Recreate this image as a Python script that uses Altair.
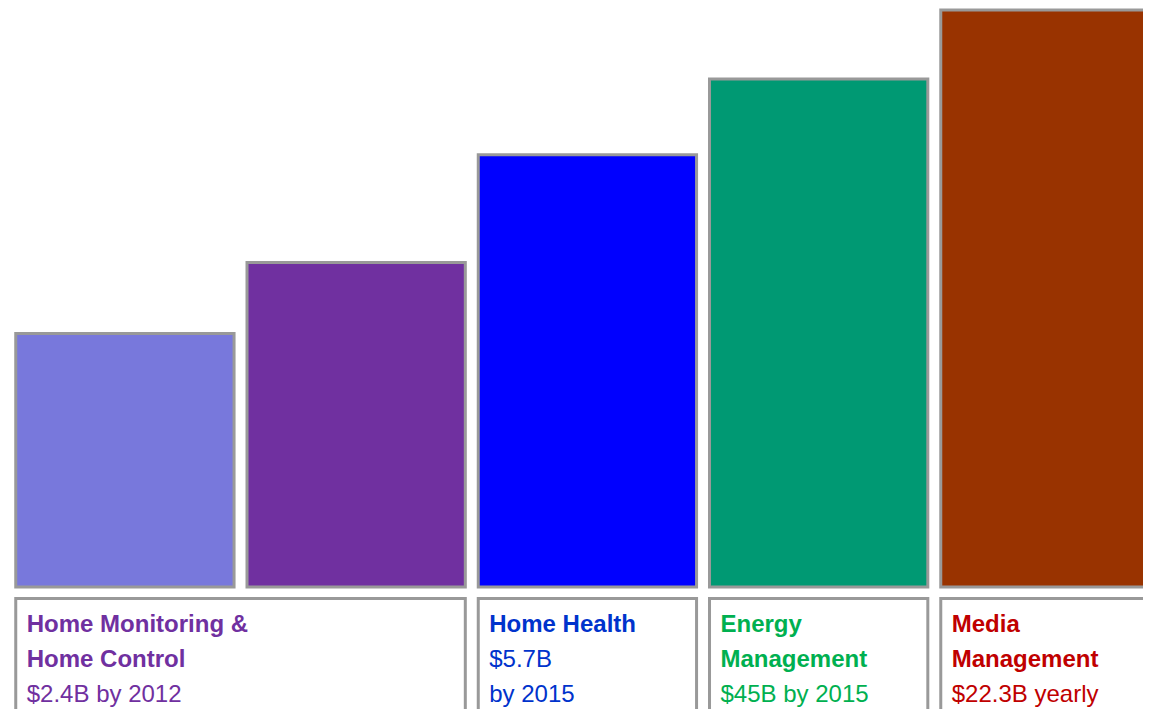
import altair as alt
import pandas as pd

# ---- data ----
categories = ["Home Monitoring", "Home Control", "Home Health",
              "Energy Management", "Media Management"]
heights = [25.4, 32.5, 43.3, 50.9, 57.8]          # relative bar heights
bar_colors = ["#7878DC", "#7030A0", "#0000FF", "#009973", "#993300"]

box_first = [0, 2, 3, 4]
box_last = [1, 2, 3, 4]
box_titles = [["Home Monitoring &", "Home Control"],
              ["Home Health"],
              ["Energy", "Management"],
              ["Media", "Management"]]
box_details = [["$2.4B by 2012"],
               ["$5.7B", "by 2015"],
               ["$45B by 2015"],
               ["$22.3B yearly"]]
box_colors = ["#7030A0", "#0033CC", "#00B050", "#C00000"]

# ---- layout constants ----
HALF = 0.472
BOX_TOP = -1.15
BOX_BOTTOM = -20
LINE0 = -4.5
LINE_STEP = 3.5
GRAY = "#999999"
FONT = "Liberation Sans"

bars = pd.DataFrame({"cat": categories, "idx": list(range(len(categories))),
                     "h": heights, "color": bar_colors})
boxes = pd.DataFrame({"first": box_first, "last": box_last})

rows = []
for b, (titles, details, col) in enumerate(zip(box_titles, box_details, box_colors)):
    line = 0
    for s in titles:
        rows.append(dict(first=box_first[b], line=line, text=s, bold=True, color=col))
        line += 1
    for s in details:
        rows.append(dict(first=box_first[b], line=line, text=s, bold=False, color=col))
        line += 1
texts = pd.DataFrame(rows)

xs = alt.Scale(domain=[-0.5055, 4.4025], nice=False, zero=False)
ys = alt.Scale(domain=[-12.22, 58], nice=False, zero=False)

bar_layer = alt.Chart(bars).mark_rect(stroke=GRAY, strokeWidth=3, clip=True).transform_calculate(
    x0=f"datum.idx - {HALF}", x1=f"datum.idx + {HALF}"
).encode(
    x=alt.X("x0:Q", scale=xs, axis=None),
    x2="x1:Q",
    y=alt.Y("h:Q", scale=ys, axis=None),
    y2=alt.datum(0),
    color=alt.Color("color:N", scale=None),
)

box_layer = alt.Chart(boxes).mark_rect(fill="white", stroke=GRAY, strokeWidth=3, clip=True).transform_calculate(
    x0=f"datum.first - {HALF}", x1=f"datum.last + {HALF}"
).encode(
    x=alt.X("x0:Q", scale=xs, axis=None),
    x2="x1:Q",
    y=alt.Y("yt:Q", scale=ys, axis=None),
    y2="yb:Q",
).transform_calculate(yt=f"{BOX_TOP}", yb=f"{BOX_BOTTOM}")


def text_layer(bold):
    return alt.Chart(texts).transform_filter(
        f"datum.bold == {'true' if bold else 'false'}"
    ).transform_calculate(
        tx=f"datum.first - {HALF}", ty=f"{LINE0} - {LINE_STEP} * datum.line"
    ).mark_text(
        align="left", baseline="alphabetic", dx=11, font=FONT, fontSize=24,
        fontWeight="bold" if bold else "normal",
    ).encode(
        x=alt.X("tx:Q", scale=xs, axis=None),
        y=alt.Y("ty:Q", scale=ys, axis=None),
        text="text:N",
        color=alt.Color("color:N", scale=None),
    )


chart = alt.layer(bar_layer, box_layer, text_layer(True), text_layer(False)).properties(
    width=1135, height=701, padding=0, autosize=alt.AutoSizeParams(type="none"),
    background="white",
).configure_view(stroke=None)

chart.save("out.html", embed_options={"renderer": "svg", "actions": False})
